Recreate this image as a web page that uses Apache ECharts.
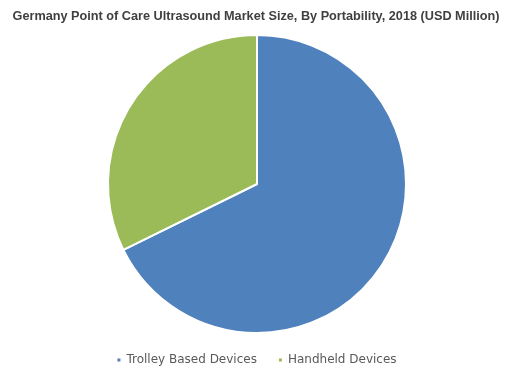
<!DOCTYPE html>
<html><head><meta charset="utf-8">
<script src="https://cdn.jsdelivr.net/npm/echarts@6/dist/echarts.min.js"></script>
<style>html,body{margin:0;padding:0;background:#fff}#c{width:512px;height:373px}</style>
</head><body><div id="c"></div>
<script>
const titleText = "Germany Point of Care Ultrasound Market Size, By Portability, 2018 (USD Million)";
const categories = ["Trolley Based Devices", "Handheld Devices"];
const values = [67.7, 32.3];
const colors = ["#4F81BD", "#9BBB59"];

const chart = echarts.init(document.getElementById('c'), null, {renderer: 'canvas'});
chart.setOption({
  animation: false,
  title: {
    text: titleText, left: 'center', top: 5,
    textStyle: {fontFamily: 'Liberation Sans', fontWeight: 'bold', fontSize: 12.7, color: '#404040'}
  },
  legend: {
    bottom: 2, left: 'center', itemWidth: 5, itemHeight: 5, itemGap: 20, icon: 'rect',
    textStyle: {fontFamily: 'DejaVu Sans', fontSize: 12, color: '#595959'},
    data: categories
  },
  series: [{
    type: 'pie', center: [257, 184], radius: 149, startAngle: 90, clockwise: true,
    label: {show: false}, labelLine: {show: false},
    itemStyle: {borderColor: '#fff', borderWidth: 2},
    data: categories.map((n, i) => ({name: n, value: values[i], itemStyle: {color: colors[i]}}))
  }]
});
</script></body></html>
